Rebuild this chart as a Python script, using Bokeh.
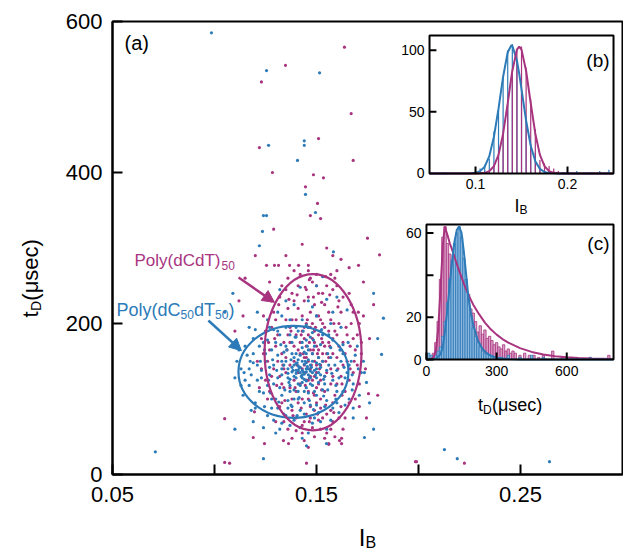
import math
from bokeh.plotting import figure
from bokeh.layouts import row, column
from bokeh.models import Range1d, FixedTicker, Label, Arrow, NormalHead
from bokeh.core.properties import value
from bokeh.embed import file_html
from bokeh.resources import INLINE

FONT = "Liberation Sans"
MAG = "#a8347f"
BLU = "#2c7bb8"
MAG_FILL = "#dba3c8"
BLU_FILL = "#8db8e0"

# ---------------- main panel (a): scatter of t_D vs I_B ----------------
main_xlim = (0.05, 0.30)
main_ylim = (0, 600)
main_x_major = [0.05, 0.15, 0.25]
main_x_minor = [0.10, 0.20]
main_y_ticks = [0, 200, 400, 600]

mag_pts = [
    (0.148,160),(0.150,170),(0.146,150),(0.152,145),(0.144,180),(0.149,190),(0.147,130),(0.153,175),(0.143,140),(0.151,120),
    (0.145,200),(0.155,160),(0.141,165),(0.150,210),(0.146,110),(0.157,140),(0.139,150),(0.154,195),(0.142,120),(0.149,225),
    (0.158,180),(0.137,175),(0.152,100),(0.144,230),(0.160,155),(0.135,135),(0.147,90),(0.156,215),(0.140,205),(0.162,130),
    (0.133,160),(0.151,240),(0.145,80),(0.159,105),(0.138,100),(0.155,250),(0.136,220),(0.163,175),(0.131,185),(0.148,255),
    (0.165,150),(0.129,140),(0.153,75),(0.141,250),(0.161,230),(0.134,115),(0.157,85),(0.143,65),(0.167,200),(0.127,165),
    (0.150,265),(0.138,240),(0.164,110),(0.130,205),(0.146,270),(0.159,260),(0.125,125),(0.169,165),(0.132,90),(0.155,55),
    (0.140,75),(0.162,90),(0.128,230),(0.168,135),(0.136,260),(0.152,60),(0.123,180),(0.170,185),(0.144,45),(0.158,70),
    (0.126,100),(0.166,240),(0.133,250),(0.171,120),(0.121,150),(0.149,50),(0.160,270),(0.130,70),(0.163,60),(0.124,210),
    (0.147,165),(0.149,150),(0.151,185),(0.145,170),(0.150,135),(0.146,195),(0.153,160),(0.148,125),(0.144,155),(0.152,205),
    (0.143,190),(0.151,155),(0.147,215),(0.149,105),(0.154,130),(0.142,175),(0.146,235),(0.150,95),(0.139,125),(0.156,190),
    (0.137,195),(0.157,120),(0.135,155),(0.154,225),(0.140,110),(0.161,200),(0.132,130),(0.158,245),(0.139,270),(0.163,145),
    (0.128,195),(0.166,95),(0.134,70),(0.172,160),(0.122,115),(0.168,215),(0.127,255),(0.156,40),(0.138,48),(0.174,140),
    (0.145,125),(0.147,140),(0.149,175),(0.151,165),(0.153,150),(0.146,185),(0.148,200),(0.150,115),(0.152,190),(0.144,145),
    (0.142,160),(0.154,170),(0.140,185),(0.156,155),(0.143,210),(0.155,135),(0.141,135),(0.157,205),(0.139,170),(0.158,160),
    (0.137,145),(0.159,190),(0.136,185),(0.160,120),(0.135,205),(0.161,170),(0.134,175),(0.162,215),(0.133,120),(0.164,160),
    (0.132,235),(0.165,185),(0.131,150),(0.166,125),(0.130,170),(0.167,225),(0.129,215),(0.168,180),(0.128,130),(0.170,145),
    (0.145,245),(0.150,250),(0.153,240),(0.147,260),(0.142,265),(0.157,265),(0.139,230),(0.160,250),(0.135,245),(0.163,235),
    (0.146,100),(0.149,85),(0.152,88),(0.144,70),(0.155,80),(0.141,95),(0.158,95),(0.138,85),(0.161,75),(0.136,60),
    (0.148,62),(0.151,72),(0.143,55),(0.154,48),(0.140,58),(0.157,60),(0.147,75),(0.159,50),(0.133,95),(0.164,75),
    (0.126,150),(0.171,200),(0.125,190),(0.172,175),(0.124,160),(0.169,100),(0.127,110),(0.173,210),(0.123,140),(0.171,90),
    (0.150,145),(0.148,180),(0.146,125),(0.152,125),(0.144,195),(0.154,110),(0.143,100),(0.156,175),(0.141,220),(0.158,130),
    (0.145,155),(0.147,195),(0.149,130),(0.151,210),(0.153,200),(0.138,205),(0.160,185),(0.137,115),(0.162,165),(0.134,140),
    (0.1485,165),(0.1465,175),(0.1505,160),(0.1445,135),(0.1525,180),(0.1475,145),(0.1495,195),(0.1455,205),(0.1515,140),(0.1435,160),
    (0.1545,150),(0.1425,185),(0.1565,170),(0.1405,145),(0.1585,200),(0.1395,115),(0.1605,140),(0.1375,190),(0.1625,120),(0.1355,165),
    (0.1645,195),(0.1335,145),(0.1665,170),(0.1315,225),(0.1685,150),(0.1295,180),(0.1485,235),(0.1525,228),(0.1445,248),(0.1565,238),
    (0.1405,238),(0.1605,222),(0.1365,232),(0.1465,258),(0.1545,262),(0.1425,88),(0.1505,80),(0.1465,70),(0.1545,92),(0.1385,78),
    (0.1585,82),(0.1345,98),(0.1625,105),(0.1485,108),(0.1445,118),(0.1525,112),(0.1305,118),(0.1665,140),(0.1265,175),(0.1705,215),
    (0.1637,566),(0.1348,542),(0.123,520),(0.167,478),(0.122,433),(0.151,445),(0.168,416),(0.1284,400),(0.1485,397),
    (0.1534,393),(0.1446,381),(0.1505,359),(0.147,343),(0.152,339),(0.129,325),(0.175,313),(0.1809,291),(0.1255,277),
    (0.1294,277),(0.1314,277),(0.1368,277),(0.1412,277),(0.146,277),(0.166,274),(0.1706,277),(0.119,49),(0.1245,41),
    (0.1338,45),(0.1363,41),(0.146,36),(0.156,41),(0.1613,45),(0.1623,41),(0.1451,15),(0.199,17),(0.180,105),(0.1196,83),
    (0.105,16),(0.1074,15),(0.105,74),(0.1755,107),(0.1745,75),(0.1623,48),(0.2225,15),(0.1985,17),(0.115,260),(0.112,230),
    (0.120,290),(0.158,290),(0.173,255),(0.178,225),(0.176,180),(0.110,190),(0.114,210),(0.135,290),(0.155,300),(0.143,305),
    (0.162,285),
]

blu_pts = [
    (0.142,135),(0.145,140),(0.140,128),(0.138,142),(0.146,132),(0.143,150),(0.141,120),(0.149,138),(0.136,134),(0.144,126),
    (0.147,145),(0.139,155),(0.133,140),(0.150,128),(0.137,118),(0.145,160),(0.152,142),(0.131,128),(0.141,110),(0.148,118),
    (0.135,150),(0.143,168),(0.154,130),(0.129,145),(0.139,100),(0.151,155),(0.146,108),(0.134,162),(0.127,132),(0.156,145),
    (0.138,175),(0.144,95),(0.132,115),(0.149,170),(0.158,125),(0.125,150),(0.153,112),(0.136,88),(0.128,165),(0.147,182),
    (0.160,138),(0.123,138),(0.141,190),(0.130,100),(0.155,98),(0.162,150),(0.121,125),(0.150,92),(0.134,80),(0.126,178),
    (0.157,168),(0.119,148),(0.144,80),(0.164,128),(0.131,190),(0.153,185),(0.118,132),(0.139,72),(0.160,110),(0.124,108),
    (0.146,195),(0.116,158),(0.166,145),(0.128,88),(0.158,88),(0.122,170),(0.135,195),(0.113,140),(0.149,75),(0.168,120),
    (0.120,95),(0.163,172),(0.142,62),(0.117,118),(0.133,68),(0.152,70),(0.111,150),(0.169,158),(0.126,78),(0.140,182),
    (0.145,148),(0.143,138),(0.141,144),(0.147,128),(0.139,130),(0.144,133),(0.146,152),(0.140,147),(0.137,126),(0.148,135),
    (0.142,158),(0.150,148),(0.136,140),(0.143,122),(0.151,135),(0.138,160),(0.145,115),(0.133,150),(0.148,160),(0.140,138),
    (0.115,170),(0.119,180),(0.127,195),(0.172,135),(0.171,105),(0.114,105),(0.118,85),(0.155,60),(0.161,82),(0.130,55),
    (0.110,128),(0.173,150),(0.124,62),(0.162,195),(0.112,165),(0.137,205),(0.157,200),(0.120,192),(0.166,100),(0.146,55),
    (0.131,215),(0.148,222),(0.126,240),(0.153,262),(0.142,248),(0.165,218),
    (0.141,138),(0.143,132),(0.145,136),(0.142,142),(0.144,146),(0.146,140),(0.140,134),(0.147,137),(0.139,145),(0.143,128),
    (0.141,152),(0.145,124),(0.148,150),(0.138,136),(0.142,118),(0.144,162),(0.150,140),(0.136,128),(0.147,120),(0.140,160),
    (0.152,132),(0.134,145),(0.146,165),(0.137,110),(0.149,110),(0.133,132),(0.143,175),(0.151,122),(0.135,170),(0.153,150),
    (0.139,112),(0.145,178),(0.131,158),(0.155,138),(0.137,185),(0.141,100),(0.148,188),(0.129,120),(0.157,155),(0.133,105),
    (0.154,120),(0.127,142),(0.150,105),(0.144,110),(0.130,175),(0.159,145),(0.136,98),(0.152,172),(0.125,160),(0.161,128),
    (0.132,185),(0.147,92),(0.123,128),(0.156,185),(0.138,90),(0.163,160),(0.128,100),(0.142,85),(0.121,145),(0.160,95),
    (0.135,78),(0.151,82),(0.124,175),(0.165,135),(0.119,160),(0.140,195),(0.154,90),(0.126,118),(0.158,178),(0.131,88),
    (0.117,140),(0.167,150),(0.122,110),(0.145,198),(0.137,65),(0.148,68),(0.115,125),(0.163,110),(0.129,192),(0.120,88),
    (0.143,205),(0.133,210),(0.150,210),(0.126,205),(0.158,215),(0.139,225),(0.146,230),(0.121,215),(0.155,232),(0.132,245),
    (0.117,195),(0.113,118),(0.164,92),(0.170,170),(0.111,175),(0.129,72),(0.157,72),(0.143,48),(0.119,70),(0.168,88),
    (0.1415,141),(0.1435,136),(0.1455,143),(0.1425,130),(0.1445,150),(0.1465,128),(0.1405,148),(0.1475,142),(0.1385,138),(0.1495,132),
    (0.1375,152),(0.1515,146),(0.1365,122),(0.1535,126),(0.1355,165),(0.1455,170),(0.1345,112),(0.1555,160),(0.1325,172),(0.1575,134),
    (0.1305,138),(0.1595,118),(0.1285,152),(0.1615,165),(0.1265,125),(0.1635,142),(0.1245,165),(0.1655,175),(0.1225,150),(0.1675,132),
    (0.1395,182),(0.1485,178),(0.1435,190),(0.1365,196),(0.1525,192),(0.1415,102),(0.1465,98),(0.1375,92),(0.1535,104),(0.1315,96),
    (0.1485,86),(0.1405,78),(0.1555,112),(0.1275,108),(0.1595,100),(0.1245,90),(0.1175,150),(0.1145,135),(0.1705,140),(0.1675,112),
    (0.0985,585),(0.1255,535),(0.1515,532),(0.1265,436),(0.144,442),(0.144,436),(0.1407,416),(0.1446,371),(0.1495,347),
    (0.124,343),(0.1255,343),(0.1235,322),(0.122,303),(0.1583,295),(0.1828,207),(0.1819,159),(0.1735,135),(0.1745,122),
    (0.1735,49),(0.1549,41),(0.1451,38),(0.124,21),(0.178,60),(0.132,60),(0.2127,33),(0.219,21),(0.2642,17),(0.105,215),
    (0.109,240),(0.150,250),(0.160,235),(0.135,230),(0.180,180),(0.176,95),(0.168,75),(0.110,60),(0.178,240),(0.071,30),
]

# ellipses: [Poly(dC50dT50) (blue), Poly(dCdT)50 (magenta)]
ell_x = [0.1387, 0.1483]
ell_y = [136, 162]
ell_w = [0.0539, 0.0475]
ell_h = [122, 207]

# ---------------- inset (b): histogram of I_B ----------------
b_xlim = (0.05, 0.25)
b_ylim = (0, 112)
b_xticks = [0.1, 0.2]
b_xticklabels = ["0.1", "0.2"]
b_yticks = [0, 50, 100]
b_yticklabels = ["0", "50", "100"]

b_mag_x = [0.115,0.12,0.125,0.13,0.135,0.14,0.145,0.15,0.155,0.16,0.165,0.17,0.175,0.18,0.185,0.19,0.195]
b_mag_h = [2,6,15,33,56,82,100,103,86,60,36,11,8,6,4,2,1]
b_blu_x = [0.065,0.1,0.105,0.11,0.115,0.12,0.125,0.13,0.135,0.14,0.145,0.15,0.155,0.16,0.165,0.17,0.175,0.21,0.225,0.235,0.245]
b_blu_h = [1,2,4,7,12,34,52,78,100,105,92,68,44,24,17,5,2,2,1,2,3]

b_fit_x = [0.05,0.095,0.1,0.105,0.11,0.115,0.12,0.125,0.13,0.135,0.139,0.14,0.145,0.1475,0.15,0.155,0.16,0.165,0.17,0.175,0.18,0.185,0.19,0.2,0.25]
b_blu_fit = [0,0.1,0.5,1.9,5.5,14.1,29.8,52.6,78.5,98.4,104,103.6,91.8,81,68.2,42.8,22.5,9.9,3.7,1.2,0.3,0.1,0,0,0]
b_mag_fit = [0,0,0,0.1,0.5,1.9,5.9,15.1,32.3,57,78.4,83.2,100.5,103,100.5,83.2,57,32.3,15.1,5.9,1.9,0.5,0.1,0,0]

# ---------------- inset (c): histogram of t_D ----------------
c_xlim = (0, 800)
c_ylim = (0, 64)
c_xticks = [0, 300, 600]
c_xticklabels = ["0", "300", "600"]
c_yticks = [0, 20, 40, 60]
c_yticklabels = ["0", "20", "", "60"]

c_mag_x = [30,40,50,60,70,80,90,100,110,120,130,140,150,160,170,180,190,200,210,220,230,240,250,260,270,280,290,300,
           310,320,330,340,350,360,370,380,400,420,440,460,480,500,540,580,620,700,780]
c_mag_h = [3,8,18,38,58,63,55,50,45,42,38,34,36,33,32,31,24,22,18,13,16,12,14,10,11,9,7,8,
           6,5,7,4,5,3,4,3,2,3,2,2,1,2,4,1,1,1,2]
c_blu_x = [10,20,30,40,50,60,70,80,90,100,110,120,130,140,150,160,170,180,190,200,210,220,230,240,250,260,270,280,
           300,320,350,400,450,500,600,700]
c_blu_h = [3,2,1,2,4,6,11,18,27,38,47,55,60,63,58,48,38,28,21,15,11,8,6,4,3,3,2,2,
           1,1,2,1,2,1,1,1]

c_mag_fit_t = [0,20,30,40,50,60,70,78,90,100,110,120,140,160,180,200,225,250,275,300,325,350,400,450,500,550,600,650,700,800]
c_mag_fit = [0,0.3,1,4,14,33,54,63,59,55,52,48.5,42,36,30.5,26,21.5,17.5,14.3,11.8,9.7,8,5.4,3.6,2.4,1.6,1.1,0.7,0.5,0.2]
c_blu_fit_t = [0,40,60,70,80,90,100,110,120,130,140,150,160,170,180,190,200,220,240,260,280,300,350,400,800]
c_blu_fit = [0,0.3,2.5,6,14,24,36,47,56,61.5,63,60,51,40,29,22,16.5,9,5,2.8,1.5,0.8,0.2,0,0]

# ======================= layout sizes =======================
YLAB_W = 56
MAIN_W = 567
MAIN_H = 515
XLAB_H = 40

# ======================= main figure =======================
p = figure(width=MAIN_W, height=MAIN_H, x_range=Range1d(*main_xlim), y_range=Range1d(*main_ylim),
           output_backend="svg", toolbar_location=None,
           min_border_left=112 - YLAB_W, min_border_right=1, min_border_top=21, min_border_bottom=41)
p.xgrid.visible = False
p.ygrid.visible = False
p.background_fill_color = "white"
p.border_fill_color = "white"
p.outline_line_color = "black"
p.outline_line_width = 2
p.outline_line_alpha = 1

p.xaxis.ticker = FixedTicker(ticks=main_x_major, minor_ticks=main_x_minor)
p.yaxis.ticker = FixedTicker(ticks=main_y_ticks)
for ax in (p.xaxis[0], p.yaxis[0]):
    ax.axis_line_width = 2
    ax.axis_line_color = "black"
    ax.major_tick_in = 10
    ax.major_tick_out = 0
    ax.minor_tick_in = 10
    ax.minor_tick_out = 0
    ax.major_tick_line_width = 2
    ax.minor_tick_line_width = 2
    ax.major_tick_line_color = "black"
    ax.minor_tick_line_color = "black"
    ax.major_label_text_font = FONT
    ax.major_label_text_font_size = "22px"
    ax.major_label_text_color = "black"
p.xaxis[0].major_label_standoff = 12
p.yaxis[0].major_label_standoff = 10

# scatter
p.scatter([q[0] for q in mag_pts], [q[1] for q in mag_pts], size=3.2, color=MAG, line_color=None)
p.scatter([q[0] for q in blu_pts], [q[1] for q in blu_pts], size=3.2, color=BLU, line_color=None)

# ellipses
p.ellipse(x=ell_x, y=ell_y, width=ell_w, height=ell_h, fill_color=None,
          line_color=[BLU, MAG], line_width=2.2)

# arrows
p.add_layout(Arrow(x_start=0.1118, y_start=261, x_end=0.1294, y_end=228, line_color=MAG, line_width=2.5,
                   end=NormalHead(size=12, fill_color=MAG, line_color=MAG)))
p.add_layout(Arrow(x_start=0.097, y_start=204, x_end=0.1132, y_end=164, line_color=BLU, line_width=2.5,
                   end=NormalHead(size=12, fill_color=BLU, line_color=BLU)))

def lab(fig, x, y, text, size, color="black", dx=0, dy=0, align="left", baseline="alphabetic", angle=0):
    fig.add_layout(Label(x=x, y=y, text=text, text_font=FONT, text_font_size=size, text_color=color,
                         x_offset=dx, y_offset=dy, text_align=align, text_baseline=baseline, angle=angle))

# annotations
lab(p, 0.0608, 284, "Poly(dCdT)", "17px", MAG)
lab(p, 0.0608, 284, "50", "12px", MAG, dx=87, dy=-5)
lab(p, 0.052, 218.5, "Poly(dC", "18px", BLU)
lab(p, 0.052, 218.5, "50", "12px", BLU, dx=64, dy=-5)
lab(p, 0.052, 218.5, "dT", "18px", BLU, dx=77.5)
lab(p, 0.052, 218.5, "50", "12px", BLU, dx=98.5, dy=-5)
lab(p, 0.052, 218.5, ")", "18px", BLU, dx=112)
lab(p, 0.0559, 571, "(a)", "20px", "black", baseline="middle")

# ---------------- helper to build an inset ----------------
def inset(xlim, ylim, xt, yt):
    s = p.subplot(x_source=Range1d(*xlim), y_source=Range1d(*ylim),
                  x_target=Range1d(*xt), y_target=Range1d(*yt))
    s.quad(left=[xlim[0]], right=[xlim[1]], bottom=[ylim[0]], top=[ylim[1]],
           fill_color="white", line_color=None)
    return s

def inset_frame(s, xlim, ylim, xticks, xlabels, yticks, ylabels, xtick_len, ytick_len):
    s.quad(left=[xlim[0]], right=[xlim[1]], bottom=[ylim[0]], top=[ylim[1]],
           fill_color=None, line_color="black", line_width=2)
    s.segment(x0=xticks, y0=[ylim[0]] * len(xticks), x1=xticks, y1=[ylim[0] + ytick_len] * len(xticks),
              line_color="black", line_width=2)
    s.segment(x0=[xlim[0]] * len(yticks), y0=yticks, x1=[xlim[0] + xtick_len] * len(yticks), y1=yticks,
              line_color="black", line_width=2)
    s.text(x=xticks, y=[ylim[0]] * len(xticks), text=xlabels, text_font=value(FONT), text_font_size="14px",
           text_align="center", text_baseline="top", y_offset=6, text_color="black")
    s.text(x=[xlim[0]] * len(yticks), y=yticks, text=ylabels, text_font=value(FONT), text_font_size="14px",
           text_align="right", text_baseline="middle", x_offset=-5, text_color="black")

# inset (b)
sb = inset(b_xlim, b_ylim, (0.2054, 0.2956), (398.7, 581.5))
sb.vbar(x=b_blu_x, top=b_blu_h, width=0.0013, fill_color=BLU, line_color=None)
sb.vbar(x=b_mag_x, top=b_mag_h, width=0.0013, fill_color=MAG, line_color=None)
sb.line(b_fit_x, b_blu_fit, line_color=BLU, line_width=2)
sb.line(b_fit_x, b_mag_fit, line_color=MAG, line_width=2)
inset_frame(sb, b_xlim, b_ylim, b_xticks, b_xticklabels, b_yticks[1:], b_yticklabels[1:], 0.0075, 5.7)
sb.text(x=[b_xlim[0]], y=[b_ylim[0]], text=[b_yticklabels[0]], text_font=value(FONT), text_font_size="14px",
        text_align="right", text_baseline="middle", x_offset=-5, text_color="black")
bmid = (b_xlim[0] + b_xlim[1]) / 2
sb.text(x=[bmid], y=[b_ylim[0]], text=["I"], text_font=value(FONT), text_font_size="18px",
        text_align="left", text_baseline="alphabetic", x_offset=-7, y_offset=33, text_color="black")
sb.text(x=[bmid], y=[b_ylim[0]], text=["B"], text_font=value(FONT), text_font_size="12px",
        text_align="left", text_baseline="alphabetic", x_offset=-2, y_offset=37, text_color="black")
sb.text(x=[b_xlim[1]], y=[b_ylim[1]], text=["(b)"], text_font=value(FONT), text_font_size="19px",
        text_align="right", text_baseline="middle", x_offset=-4, y_offset=25, text_color="black")

# inset (c)
sc = inset(c_xlim, c_ylim, (0.2039, 0.2956), (152.3, 331.1))
sc.vbar(x=c_mag_x, top=c_mag_h, width=10, fill_color=MAG_FILL, line_color=MAG, line_width=0.8)
sc.vbar(x=c_blu_x, top=c_blu_h, width=10, fill_color=BLU_FILL, line_color=BLU, line_width=0.8)
sc.line(c_mag_fit_t, c_mag_fit, line_color=MAG, line_width=2)
sc.line(c_blu_fit_t, c_blu_fit, line_color=BLU, line_width=2)
inset_frame(sc, c_xlim, c_ylim, c_xticks, c_xticklabels, c_yticks, c_yticklabels, 30, 3.3)
cmid = (c_xlim[0] + c_xlim[1]) / 2
sc.text(x=[cmid], y=[c_ylim[0]], text=["t"], text_font=value(FONT), text_font_size="18px",
        text_align="left", text_baseline="alphabetic", x_offset=-42, y_offset=45, text_color="black")
sc.text(x=[cmid], y=[c_ylim[0]], text=["D"], text_font=value(FONT), text_font_size="12px",
        text_align="left", text_baseline="alphabetic", x_offset=-37, y_offset=50, text_color="black")
sc.text(x=[cmid], y=[c_ylim[0]], text=["(μsec)"], text_font=value(FONT), text_font_size="18px",
        text_align="left", text_baseline="alphabetic", x_offset=-28, y_offset=45, text_color="black")
sc.text(x=[c_xlim[1]], y=[c_ylim[1]], text=["(c)"], text_font=value(FONT), text_font_size="19px",
        text_align="right", text_baseline="middle", x_offset=-4, y_offset=19, text_color="black")

# ======================= axis-title strips (subscripted labels) =======================
def strip(w, h):
    f = figure(width=w, height=h, x_range=Range1d(0, w), y_range=Range1d(0, h),
               output_backend="svg", toolbar_location=None, x_axis_location=None, y_axis_location=None,
               min_border=0, outline_line_color=None)
    f.xgrid.visible = False
    f.ygrid.visible = False
    f.background_fill_color = "white"
    f.border_fill_color = "white"
    return f

# rotated y title, each piece centred on its own position along the text line
py = strip(YLAB_W, MAIN_H)
ylab_x, ylab_y = 30, 223
lab(py, ylab_x, ylab_y, "t", "22px", dy=-36, align="center", baseline="middle", angle=math.pi / 2)
lab(py, ylab_x, ylab_y, "D", "14px", dx=5, dy=-27.5, align="center", baseline="middle", angle=math.pi / 2)
lab(py, ylab_x, ylab_y, "(μsec)", "22px", dy=8.5, align="center", baseline="middle", angle=math.pi / 2)

px = strip(YLAB_W + MAIN_W, XLAB_H)
xlab_x, xlab_y = 367, 18
lab(px, xlab_x, xlab_y, "I", "24px", dx=-8.7)
lab(px, xlab_x, xlab_y, "B", "16px", dx=-2, dy=-5)

layout = column(row(py, p), px)
open("out.html", "w").write(file_html(layout, INLINE))
